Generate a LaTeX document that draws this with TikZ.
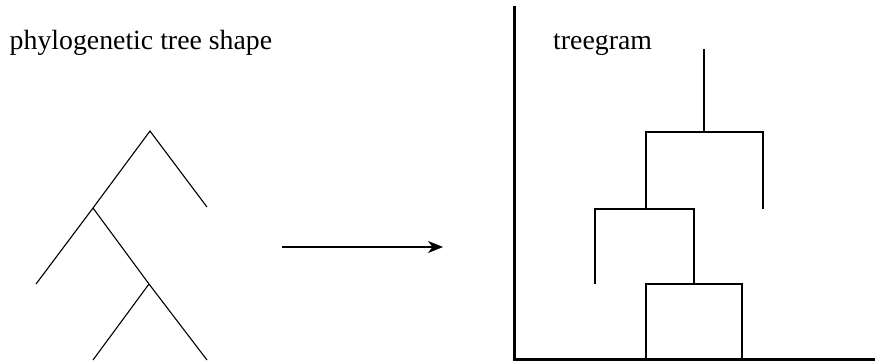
\documentclass[tikz,border=0pt]{standalone}
\usepackage{fontspec}
\setmainfont{Liberation Serif}
\usetikzlibrary{arrows.meta}
\begin{document}
\begin{tikzpicture}[x=1pt,y=-1pt,
  branch/.style={line width=1.1pt,line cap=butt},
  axis/.style={line width=3.2pt},
  lbl/.style={anchor=base west,inner sep=0pt,font=\fontsize{27.8}{33}\selectfont}]
\useasboundingbox (0,0) rectangle (875,362);
% labels
\node[lbl] (t1) at (9.5,49) {phylogenetic tree shape};
\node[lbl] (t2) at (553,49) {treegram};
% left tree
\coordinate (r) at (150,131);
\coordinate (a) at (207,207);
\coordinate (n1) at (93,208);
\coordinate (b) at (36,284);
\coordinate (n2) at (149,284);
\coordinate (c) at (93,360);
\coordinate (d) at (207,360);
\draw[branch] (a) -- (r) -- (n1) -- (b);
\draw[branch] (n1) -- (n2) -- (d);
\draw[branch] (n2) -- (c);
% arrow
\coordinate (p) at (282,247);
\coordinate (q) at (443,247);
\draw[line width=1.1pt,-{Stealth[length=15pt,width=12pt,inset=4.5pt]}] (p) -- (q);
% axes
\coordinate (ytop) at (514.3,6);
\coordinate (o) at (514.3,359.5);
\coordinate (xend) at (875,359.5);
\draw[axis] (ytop) -- (o) -- (xend);
% treegram
\coordinate (s0) at (704,49);
\coordinate (s1) at (704,132);
\draw[branch] (s0) -- (s1);
\draw[branch] (646,209) -- (646,132) -- (763,132) -- (763,209);
\draw[branch] (595,284) -- (595,209) -- (694,209) -- (694,284);
\draw[branch] (646,358) -- (646,284) -- (742,284) -- (742,358);
\end{tikzpicture}
\end{document}
